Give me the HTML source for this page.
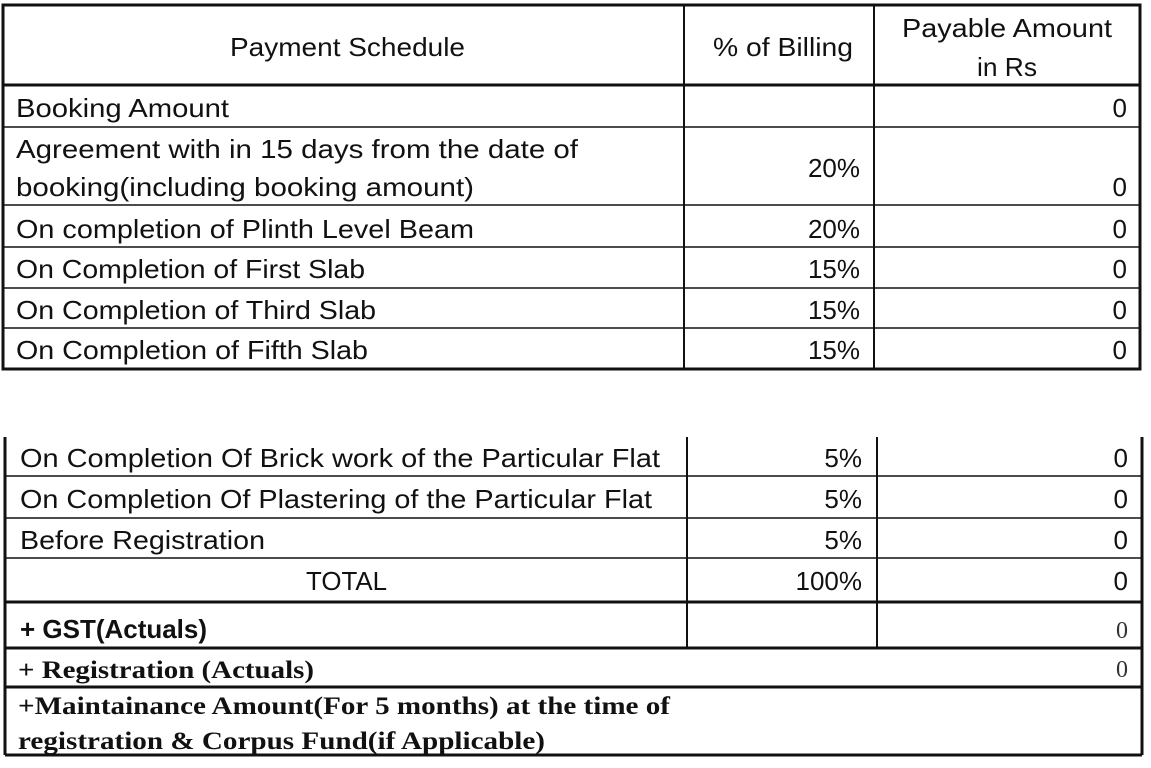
<!DOCTYPE html>
<html><head><meta charset="utf-8"><style>
html,body{margin:0;padding:0;background:#fff;width:1151px;height:768px;overflow:hidden}
svg{display:block}
.s{font-family:"Liberation Sans",sans-serif;font-size:26px;fill:#111}
.b{font-family:"Liberation Sans",sans-serif;font-size:26px;font-weight:bold;fill:#111}
.r{font-family:"Liberation Serif",serif;font-size:25px;font-weight:bold;fill:#111}
.rn{font-family:"Liberation Serif",serif;font-size:24px;fill:#333}
</style></head><body>
<svg width="1151" height="768" xmlns="http://www.w3.org/2000/svg">
<g stroke="#111" fill="none">
<rect x="3" y="5" width="1137" height="364" stroke-width="3"/>
<line x1="3" y1="85" x2="1140" y2="85" stroke-width="3"/>
<line x1="3" y1="127" x2="1140" y2="127" stroke-width="1.5"/>
<line x1="3" y1="205" x2="1140" y2="205" stroke-width="1.5"/>
<line x1="3" y1="247" x2="1140" y2="247" stroke-width="1.5"/>
<line x1="3" y1="288" x2="1140" y2="288" stroke-width="1.5"/>
<line x1="3" y1="328" x2="1140" y2="328" stroke-width="1.5"/>
<line x1="684" y1="5" x2="684" y2="369" stroke-width="2"/>
<line x1="874" y1="5" x2="874" y2="369" stroke-width="2"/>
<line x1="5" y1="437" x2="5" y2="755" stroke-width="3"/>
<line x1="1142" y1="437" x2="1142" y2="755" stroke-width="3"/>
<line x1="5" y1="755" x2="1142" y2="755" stroke-width="3"/>
<line x1="5" y1="476" x2="1142" y2="476" stroke-width="1.5"/>
<line x1="5" y1="518" x2="1142" y2="518" stroke-width="1.5"/>
<line x1="5" y1="558" x2="1142" y2="558" stroke-width="1.5"/>
<line x1="5" y1="602" x2="1142" y2="602" stroke-width="3"/>
<line x1="5" y1="648" x2="1142" y2="648" stroke-width="3"/>
<line x1="5" y1="687" x2="1142" y2="687" stroke-width="3"/>
<line x1="687" y1="437" x2="687" y2="648" stroke-width="2"/>
<line x1="877" y1="437" x2="877" y2="648" stroke-width="2"/>
</g>
<g>
<text class="s" x="230" y="56" textLength="235" lengthAdjust="spacingAndGlyphs">Payment Schedule</text>
<text class="s" x="713" y="56" textLength="140" lengthAdjust="spacingAndGlyphs">% of Billing</text>
<text class="s" x="902" y="37" textLength="210" lengthAdjust="spacingAndGlyphs">Payable Amount</text>
<text class="s" x="977" y="76" textLength="60" lengthAdjust="spacingAndGlyphs">in Rs</text>

<text class="s" x="16" y="117" textLength="213" lengthAdjust="spacingAndGlyphs">Booking Amount</text>
<text class="s" x="16" y="158" textLength="562" lengthAdjust="spacingAndGlyphs">Agreement with in 15 days from the date of</text>
<text class="s" x="16" y="196" textLength="458" lengthAdjust="spacingAndGlyphs">booking(including booking amount)</text>
<text class="s" x="16" y="238" textLength="458" lengthAdjust="spacingAndGlyphs">On completion of Plinth Level Beam</text>
<text class="s" x="16" y="278" textLength="349" lengthAdjust="spacingAndGlyphs">On Completion of First Slab</text>
<text class="s" x="16" y="319" textLength="360" lengthAdjust="spacingAndGlyphs">On Completion of Third Slab</text>
<text class="s" x="16" y="359" textLength="352" lengthAdjust="spacingAndGlyphs">On Completion of Fifth Slab</text>

<g text-anchor="end">
<text class="s" x="860" y="177">20%</text>
<text class="s" x="860" y="238">20%</text>
<text class="s" x="860" y="278">15%</text>
<text class="s" x="860" y="319">15%</text>
<text class="s" x="860" y="359">15%</text>
<text class="s" x="1127" y="117">0</text>
<text class="s" x="1127" y="196">0</text>
<text class="s" x="1127" y="238">0</text>
<text class="s" x="1127" y="278">0</text>
<text class="s" x="1127" y="319">0</text>
<text class="s" x="1127" y="359">0</text>

<text class="s" x="862" y="467">5%</text>
<text class="s" x="862" y="508">5%</text>
<text class="s" x="862" y="549">5%</text>
<text class="s" x="862" y="590">100%</text>
<text class="s" x="1128" y="467">0</text>
<text class="s" x="1128" y="508">0</text>
<text class="s" x="1128" y="549">0</text>
<text class="s" x="1128" y="590">0</text>
<text class="rn" x="1128" y="638">0</text>
<text class="rn" x="1128" y="677">0</text>
</g>

<text class="s" x="20" y="467" textLength="640" lengthAdjust="spacingAndGlyphs">On Completion Of Brick work of the Particular Flat</text>
<text class="s" x="20" y="508" textLength="632" lengthAdjust="spacingAndGlyphs">On Completion Of Plastering of the Particular Flat</text>
<text class="s" x="20" y="549" textLength="245" lengthAdjust="spacingAndGlyphs">Before Registration</text>
<text class="s" x="306" y="590" textLength="81" lengthAdjust="spacingAndGlyphs">TOTAL</text>
<text class="b" x="20" y="638" textLength="187" lengthAdjust="spacingAndGlyphs">+ GST(Actuals)</text>
<text class="r" x="18" y="678" textLength="296" lengthAdjust="spacingAndGlyphs">+ Registration (Actuals)</text>
<text class="r" x="18" y="714" textLength="652" lengthAdjust="spacingAndGlyphs">+Maintainance Amount(For 5 months) at the time of</text>
<text class="r" x="18" y="749" textLength="527" lengthAdjust="spacingAndGlyphs">registration &amp; Corpus Fund(if Applicable)</text>
</g>
</svg>
</body></html>
